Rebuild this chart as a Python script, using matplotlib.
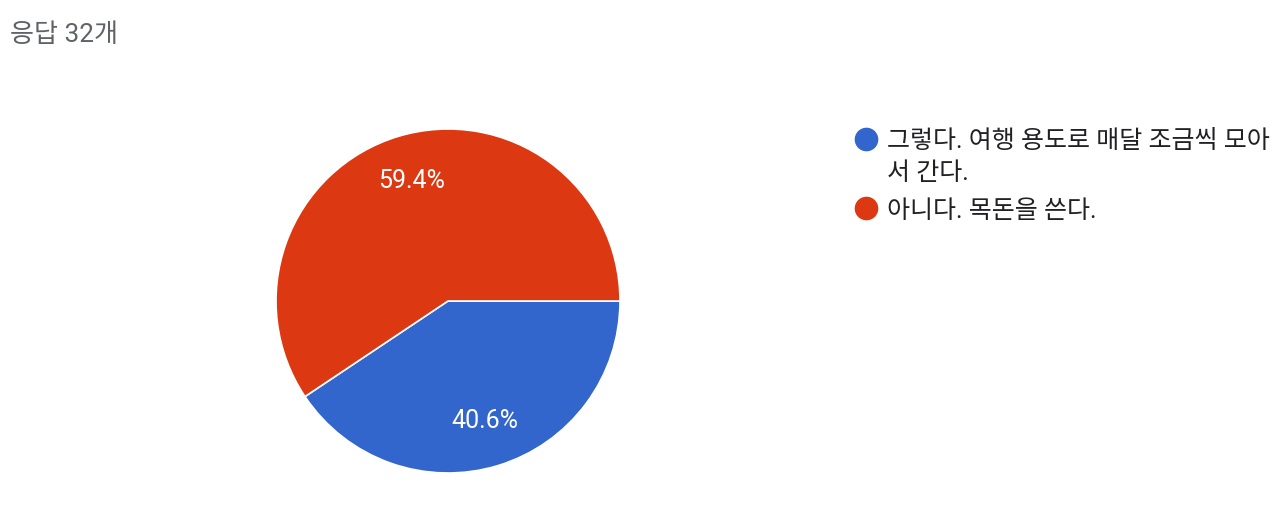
import matplotlib.pyplot as plt
from matplotlib.lines import Line2D

plt.rcParams['font.family'] = ['Roboto', 'Noto Sans CJK KR', 'DejaVu Sans']

title = "응답 32개"
labels = ["그렇다. 여행 용도로 매달 조금씩 모아\n서 간다.", "아니다. 목돈을 쓴다."]
counts = [13, 19]
colors = ["#3366cc", "#dc3912"]

W, H = 1280, 509
fig = plt.figure(figsize=(W / 100, H / 100), dpi=100)

# pie axes: centre (448, 301) px from top, radius 172 px
cx, cy, r = 448, 301, 172
ax = fig.add_axes([(cx - r) / W, (H - cy - r) / H, 2 * r / W, 2 * r / H])
wedges, texts, autotexts = ax.pie(
    counts, colors=colors, startangle=0, counterclock=False,
    autopct='%1.1f%%', pctdistance=0.73,
    wedgeprops=dict(edgecolor='white', linewidth=1.2),
    textprops=dict(color='white', fontsize=18))
ax.set_xlim(-1.0, 1.0)
ax.set_ylim(-1.0, 1.0)

fig.text(10 / W, 1 - 35 / H, title, fontsize=18.8, color='#5f6368', va='center', ha='left')

# legend, drawn by hand so the marker sits on the first line of a wrapped label
line_px = 32
y = 139
for lab, c in zip(labels, colors):
    fig.add_artist(Line2D([866 / W], [1 - y / H], transform=fig.transFigure,
                          marker='o', markersize=16, linestyle='none',
                          markerfacecolor=c, markeredgecolor=c))
    for part in lab.split('\n'):
        fig.text(887 / W, 1 - y / H, part, fontsize=18, color='#202124',
                 va='center_baseline', ha='left')
        y += line_px
    y += 37 - line_px

fig.savefig('out.png', dpi=100)
